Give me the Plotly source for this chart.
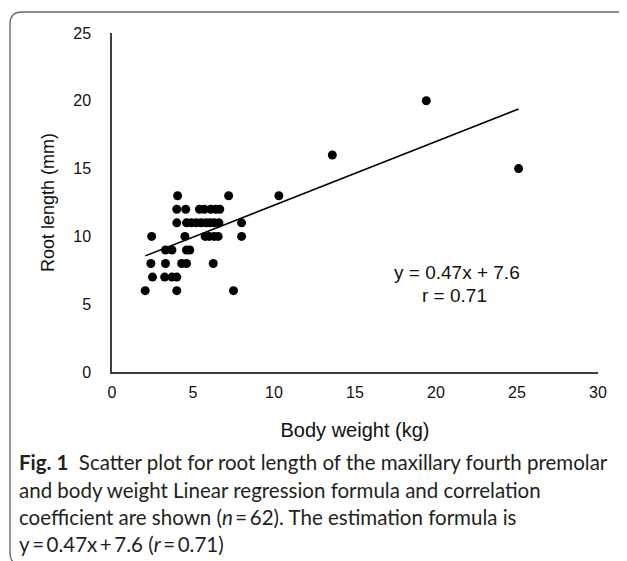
import plotly.graph_objects as go

# ---- data ----
body_weight = [
    4.05, 7.2, 10.3,                                   # root 13
    4.0, 4.55, 5.4, 5.7, 6.1, 6.4, 6.65,               # root 12
    4.0, 4.6, 4.9, 5.2, 5.5, 5.8, 6.05, 6.3, 6.6, 8.0, # root 11
    2.45, 4.5, 5.75, 6.0, 6.3, 6.55, 8.0,              # root 10
    3.3, 3.7, 4.6, 4.8,                                # root 9
    2.4, 3.3, 4.3, 4.6, 6.25,                          # root 8
    2.5, 3.25, 3.7, 4.0,                               # root 7
    2.05, 4.0, 7.5,                                    # root 6
    13.6, 19.4, 25.1,                                  # outliers
]
root_length = [
    13, 13, 13,
    12, 12, 12, 12, 12, 12, 12,
    11, 11, 11, 11, 11, 11, 11, 11, 11, 11,
    10, 10, 10, 10, 10, 10, 10,
    9, 9, 9, 9,
    8, 8, 8, 8, 8,
    7, 7, 7, 7,
    6, 6, 6,
    16, 20, 15,
]
slope = 0.47
intercept = 7.6
r_value = 0.71
x_ticks = [0, 5, 10, 15, 20, 25, 30]
y_ticks = [0, 5, 10, 15, 20, 25]

# ---- layout helpers (reference window pixel -> paper) ----
OFF = 8                      # default page body margin
W, H = 627 - OFF, 561 - OFF  # figure size so it fills the window
PLOT_L, PLOT_R, PLOT_T, PLOT_B = 112, 598, 33, 372   # plot area in window px
L, T = PLOT_L - OFF, PLOT_T - OFF
R, B = W - (PLOT_R - OFF), H - (PLOT_B - OFF)
PW, PH = PLOT_R - PLOT_L, PLOT_B - PLOT_T
def px(x):
    return (x - PLOT_L) / PW
def py(y):
    return (PLOT_B - y) / PH

x_min, x_max = min(body_weight), max(body_weight)
line_x = [x_min, x_max]
line_y = [slope * v + intercept for v in line_x]

fig = go.Figure()
fig.add_trace(go.Scatter(
    x=line_x, y=line_y, mode="lines",
    line=dict(color="black", width=1.6), hoverinfo="skip", showlegend=False))
fig.add_trace(go.Scatter(
    x=body_weight, y=root_length, mode="markers",
    marker=dict(color="black", size=9, line=dict(width=0)), showlegend=False))

font_main = "Liberation Sans, Arial, sans-serif"
fig.update_layout(
    width=W, height=H,
    margin=dict(l=L, r=R, t=T, b=B, pad=0, autoexpand=False),
    paper_bgcolor="white", plot_bgcolor="white",
    font=dict(family=font_main, color="#111111", size=16),
    xaxis=dict(range=[0, 30], tickvals=x_ticks, showgrid=False, zeroline=False,
               showline=True, linecolor="#404040", linewidth=1.5, automargin=False,
               ticks="outside", ticklen=5, tickcolor="rgba(0,0,0,0)",
               tickfont=dict(size=16, family=font_main),
               title=dict(text="Body weight (kg)", font=dict(size=20, family=font_main),
                          standoff=23)),
    yaxis=dict(range=[0, 25], tickvals=y_ticks, showgrid=False, zeroline=False,
               showline=True, linecolor="#404040", linewidth=1.5, automargin=False,
               ticks="outside", ticklen=16, tickcolor="rgba(0,0,0,0)",
               tickfont=dict(size=16, family=font_main),
               title=dict(text="Root length (mm)", font=dict(size=18, family=font_main),
                          standoff=14)),
)

# regression text
fig.add_annotation(x=px(457), y=py(272), xref="paper", yref="paper",
                   text=f"y = {slope}x + {intercept}", showarrow=False,
                   font=dict(size=19, family=font_main, color="#111111"),
                   xanchor="center", yanchor="middle")
fig.add_annotation(x=px(454), y=py(295), xref="paper", yref="paper",
                   text=f"r = {r_value}", showarrow=False,
                   font=dict(size=19, family=font_main, color="#111111"),
                   xanchor="center", yanchor="middle")

# caption
cap_font = dict(size=20.5, family="Lato, Noto Sans, sans-serif", color="#231f20")
ts = "\u2009"
caption_lines = [
    "<b>Fig. 1</b>  Scatter plot for root length of the maxillary fourth premolar",
    "and body weight Linear regression formula and correlation",
    f"coefficient are shown (<i>n</i>{ts}={ts}62). The estimation formula is",
    f"y{ts}={ts}0.47x{ts}+{ts}7.6 (<i>r</i>{ts}={ts}0.71)",
]
for txt, yy in zip(caption_lines, [462, 490, 517, 544]):
    fig.add_annotation(x=px(17), y=py(yy), xref="paper", yref="paper",
                       text=txt, showarrow=False, font=cap_font,
                       xanchor="left", yanchor="middle", align="left")

# rounded card border
x0, x1, y0, y1, rr = 10, 645, 12, 565, 12
path = (f"M {px(x0)},{py(y0+rr)} L {px(x0)},{py(y1-rr)} "
        f"Q {px(x0)},{py(y1)} {px(x0+rr)},{py(y1)} L {px(x1)},{py(y1)} "
        f"L {px(x1)},{py(y0)} L {px(x0+rr)},{py(y0)} "
        f"Q {px(x0)},{py(y0)} {px(x0)},{py(y0+rr)} Z")
fig.add_shape(type="path", path=path, xref="paper", yref="paper",
              line=dict(color="#6a6a6a", width=1.4), fillcolor="rgba(0,0,0,0)",
              layer="below")

fig.write_html("out.html")
